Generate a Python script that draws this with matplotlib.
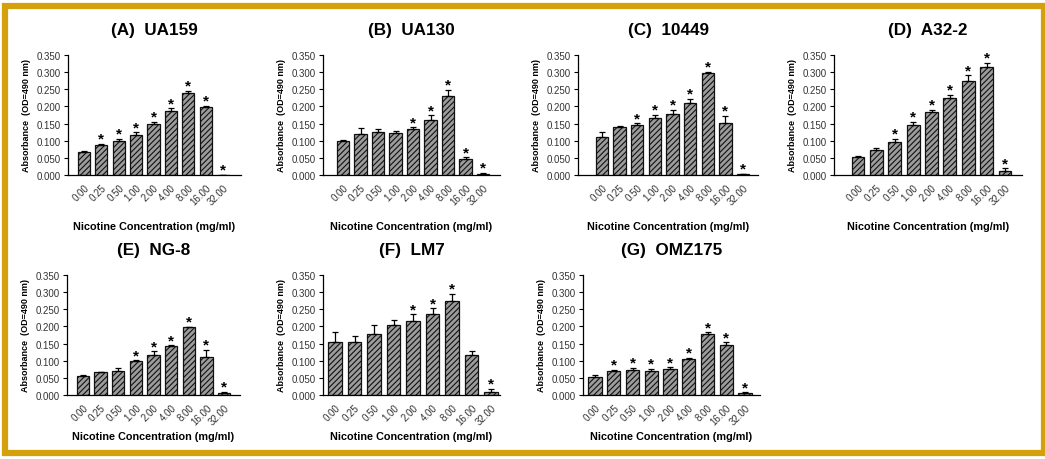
import numpy as np
import matplotlib
matplotlib.use("Agg")
import matplotlib.pyplot as plt
from matplotlib.patches import Rectangle

plt.rcParams['font.family'] = ['Liberation Sans', 'DejaVu Sans']
plt.rcParams['hatch.linewidth'] = 0.8

# nicotine concentrations (mg/ml)
conc = ["0.00", "0.25", "0.50", "1.00", "2.00", "4.00", "8.00", "16.00", "32.00"]

titles = ["(A)  UA159", "(B)  UA130", "(C)  10449", "(D)  A32-2",
          "(E)  NG-8", "(F)  LM7", "(G)  OMZ175"]

# mean absorbance (OD490) per strain
ua159 = [0.068, 0.088, 0.100, 0.116, 0.149, 0.186, 0.238, 0.197, 0.001]
ua130 = [0.099, 0.119, 0.125, 0.122, 0.135, 0.161, 0.229, 0.047, 0.004]
s10449 = [0.111, 0.139, 0.147, 0.166, 0.179, 0.211, 0.297, 0.153, 0.003]
a32_2 = [0.053, 0.072, 0.096, 0.146, 0.184, 0.226, 0.274, 0.315, 0.011]
ng8 = [0.055, 0.066, 0.070, 0.100, 0.116, 0.143, 0.197, 0.110, 0.006]
lm7 = [0.154, 0.155, 0.178, 0.204, 0.216, 0.236, 0.275, 0.116, 0.009]
omz175 = [0.053, 0.071, 0.072, 0.071, 0.076, 0.106, 0.178, 0.146, 0.005]

# standard deviations
ua159_err = [0.002, 0.003, 0.006, 0.009, 0.007, 0.008, 0.008, 0.005, 0.000]
ua130_err = [0.003, 0.017, 0.010, 0.006, 0.005, 0.013, 0.020, 0.005, 0.002]
s10449_err = [0.014, 0.004, 0.004, 0.010, 0.011, 0.011, 0.004, 0.020, 0.001]
a32_2_err = [0.003, 0.007, 0.010, 0.010, 0.006, 0.008, 0.017, 0.013, 0.008]
ng8_err = [0.003, 0.002, 0.009, 0.002, 0.011, 0.002, 0.002, 0.022, 0.004]
lm7_err = [0.031, 0.016, 0.027, 0.015, 0.019, 0.017, 0.020, 0.013, 0.009]
omz175_err = [0.004, 0.003, 0.007, 0.005, 0.005, 0.003, 0.005, 0.008, 0.003]

# significant vs. control (1 = star)
ua159_sig = [0, 1, 1, 1, 1, 1, 1, 1, 1]
ua130_sig = [0, 0, 0, 0, 1, 1, 1, 1, 1]
s10449_sig = [0, 0, 1, 1, 1, 1, 1, 1, 1]
a32_2_sig = [0, 0, 1, 1, 1, 1, 1, 1, 1]
ng8_sig = [0, 0, 0, 1, 1, 1, 1, 1, 1]
lm7_sig = [0, 0, 0, 0, 1, 1, 1, 0, 1]
omz175_sig = [0, 1, 1, 1, 1, 1, 1, 1, 1]

means = [ua159, ua130, s10449, a32_2, ng8, lm7, omz175]
errs = [ua159_err, ua130_err, s10449_err, a32_2_err, ng8_err, lm7_err, omz175_err]
sigs = [ua159_sig, ua130_sig, s10449_sig, a32_2_sig, ng8_sig, lm7_sig, omz175_sig]

W, H = 1045, 460
fig = plt.figure(figsize=(W / 100, H / 100), dpi=100)

# pixel layout: axis left, axis right, first bar centre, last bar centre, top, bottom, xlabel top
layout = [
    (68, 241, 84, 223, 56, 176, 222),
    (323, 500, 343, 483, 56, 176, 222),
    (578, 758, 602, 743, 56, 176, 222),
    (834, 1022, 858, 1005, 56, 176, 222),
    (67, 240, 83, 224, 276, 396, 432),
    (323, 500, 335, 491, 276, 396, 432),
    (583, 760, 595, 745, 276, 396, 432),
]

x = np.arange(len(conc))
for k in range(len(titles)):
    left, right, c0, c8, top, bottom, lab_y = layout[k]
    ax = fig.add_axes([left / W, 1 - bottom / H, (right - left) / W, (bottom - top) / H])
    sp = (c8 - c0) / 8
    ax.set_xlim(-(c0 - left) / sp, 8 + (right - c8) / sp)
    ax.set_ylim(0, 0.35)

    ax.bar(x, means[k], width=0.7, color='#9c9c9c', edgecolor='#111111',
           hatch='//////', linewidth=0.9, zorder=2)
    ax.errorbar(x, means[k], yerr=[np.zeros(len(x)), errs[k]], fmt='none',
                ecolor='black', elinewidth=0.9, capsize=2.5, capthick=0.9, zorder=3)
    for i in range(len(x)):
        if sigs[k][i]:
            ax.text(i, means[k][i] + errs[k][i] + 0.003, '*', ha='center', va='baseline',
                    fontsize=11, fontweight='bold')

    ax.set_yticks(np.arange(0, 0.351, 0.05))
    ax.set_yticklabels(["%.3f" % v for v in np.arange(0, 0.351, 0.05)])
    ax.set_xticks(x)
    ax.set_xticklabels(conc, rotation=45, ha='right', rotation_mode='anchor')
    ax.tick_params(axis='y', length=3, width=0.8, labelsize=7, labelcolor='#333333', pad=2)
    ax.tick_params(axis='x', length=0, labelsize=7, labelcolor='#333333', pad=5)
    for s in ['top', 'right']:
        ax.spines[s].set_visible(False)
    for s in ['left', 'bottom']:
        ax.spines[s].set_linewidth(0.9)

    ax.set_title(titles[k], fontsize=12.3, fontweight='bold', pad=15)
    ax.set_ylabel("Absorbance  (OD=490 nm)", fontsize=6.5, fontweight='bold', labelpad=4)
    ax.set_xlabel("Nicotine Concentration (mg/ml)", fontsize=7.8, fontweight='bold')
    ax.xaxis.set_label_coords(0.5, -(lab_y - bottom) / (bottom - top))

# gold frame around the whole panel
fig.patches.append(Rectangle((5 / W, 6 / H), 1039 / W, 447 / H, transform=fig.transFigure,
                             fill=False, edgecolor='#d4a00c', linewidth=4.5))

fig.savefig("out.png", dpi=100)
